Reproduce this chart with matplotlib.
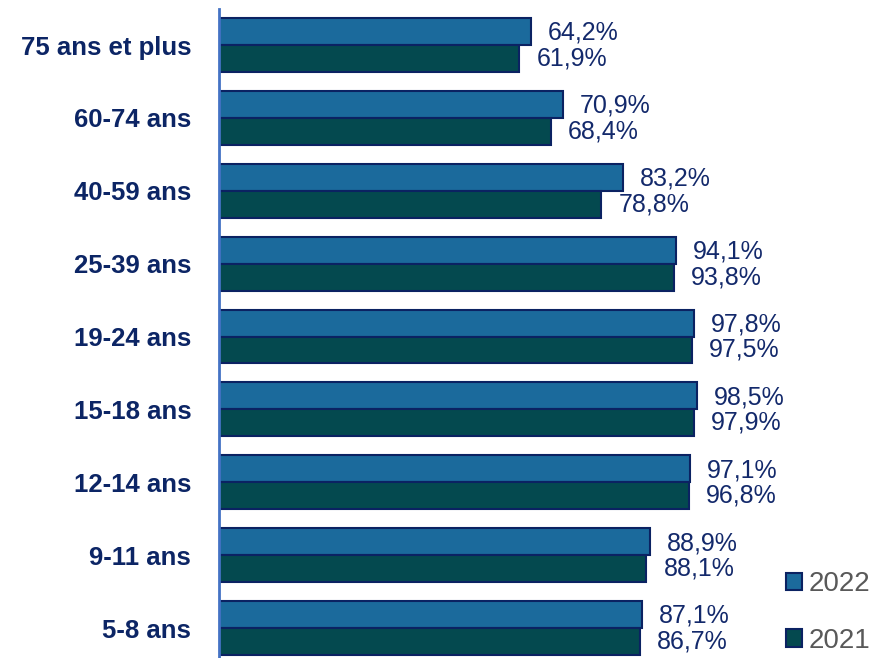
import numpy as np
import matplotlib.pyplot as plt

plt.rcParams['font.family'] = ['Liberation Sans', 'DejaVu Sans']

ages = ["5-8 ans", "9-11 ans", "12-14 ans", "15-18 ans", "19-24 ans",
        "25-39 ans", "40-59 ans", "60-74 ans", "75 ans et plus"]
v2022 = [87.1, 88.9, 97.1, 98.5, 97.8, 94.1, 83.2, 70.9, 64.2]
v2021 = [86.7, 88.1, 96.8, 97.9, 97.5, 93.8, 78.8, 68.4, 61.9]

navy = "#13296b"
y = np.arange(len(ages))
h = 0.37

fig = plt.figure(figsize=(8.75, 6.58), dpi=100)
ax = fig.add_axes([219/875, 0, 1 - 219/875, 1 - 9/658])

b1 = ax.barh(y + h/2, v2022, height=h, color="#1b6a9c", edgecolor="#0b2262", linewidth=1.5, label="2022")
b2 = ax.barh(y - h/2, v2021, height=h, color="#04494f", edgecolor="#0b2262", linewidth=1.5, label="2021")

def fmt(v):
    return ("%.1f%%" % v).replace(".", ",")

for i in range(len(ages)):
    ax.text(v2022[i] + 3.5, y[i] + h/2 - 0.02, fmt(v2022[i]), va="center", ha="left", fontsize=18, color=navy)
    ax.text(v2021[i] + 3.5, y[i] - h/2, fmt(v2021[i]), va="center", ha="left", fontsize=18, color=navy)

ax.set_xlim(0, 135.2)
ax.set_ylim(-30/72.875, 8 + 36/72.875)
ax.set_yticks(y)
ax.set_yticklabels(ages, fontsize=18.5, fontweight="bold", color="#0c2565")
ax.tick_params(axis="y", length=0, pad=20)
ax.set_xticks([])
for s in ["top", "right", "bottom"]:
    ax.spines[s].set_visible(False)
ax.spines["left"].set_color("#4472c4")
ax.spines["left"].set_linewidth(2)

leg = ax.legend(handles=[b1, b2], loc="lower right", bbox_to_anchor=(1.0, 0.0),
                frameon=False, fontsize=20, labelcolor="#595959",
                handlelength=0.58, handleheight=0.58, handletextpad=0.25,
                labelspacing=1.1, borderpad=0.0, borderaxespad=0.15)

fig.savefig("out.png", dpi=100)
